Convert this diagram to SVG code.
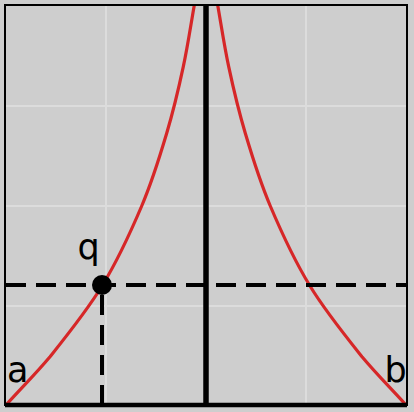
<svg xmlns="http://www.w3.org/2000/svg" width="414" height="412" viewBox="0 0 414 412">
<style>
.grid{stroke:#dcdcdc;stroke-width:2;fill:none}
.curve{stroke:#d62728;stroke-width:3.2;fill:none}
.dash{stroke:#000;stroke-width:4;stroke-dasharray:20 10;fill:none}
.lbl{font-family:"DejaVu Sans","Liberation Sans",sans-serif;font-size:35px;fill:#000}
</style>
<defs>
<clipPath id="plot"><rect x="5" y="5" width="402" height="400"/></clipPath>
</defs>
<rect x="0" y="0" width="414" height="412" fill="#cecece"/>
<g id="grid">
<path class="grid" d="M106,5V405M306,5V405M5,106H407M5,206H407M5,306H407"/>
</g>
<g id="connectors">
<g clip-path="url(#plot)">
<path id="curve-left" class="curve" d="M6,405 C20.7,388.6 34,375.7 50,356.7 C66,336.7 86.7,311.1 102,286 C117.3,260.9 130.9,231.5 141.7,206 C152.5,180.6 159.8,156.5 166.7,133.3 C173.6,110.1 178.7,88.3 183.3,66.7 C187.9,45.2 190.8,24.9 194.5,4 L196,-6"/>
<path id="curve-right" class="curve" transform="translate(412,0) scale(-1,1)" d="M6,405 C20.7,388.6 34,375.7 50,356.7 C66,336.7 86.7,311.1 102,286 C117.3,260.9 130.9,231.5 141.7,206 C152.5,180.6 159.8,156.5 166.7,133.3 C173.6,110.1 178.7,88.3 183.3,66.7 C187.9,45.2 190.8,24.9 194.5,4 L196,-6"/>
</g>
<path id="dash-h" class="dash" d="M6,285H407"/>
<path id="dash-v" class="dash" d="M102,405V285"/>
<path id="axis-v" d="M206,5V405" stroke="#000" stroke-width="5.5"/>
<path id="axis-h" d="M5,405H407" stroke="#000" stroke-width="4.5"/>
<rect id="frame" x="5" y="5" width="402" height="400" fill="none" stroke="#000" stroke-width="2"/>
</g>
<g id="node-q">
<circle cx="102" cy="285" r="10" fill="#000"/>
<text class="lbl" x="77.5" y="258.5">q</text>
</g>
<g id="node-a">
<text class="lbl" x="7" y="381.7">a</text>
</g>
<g id="node-b">
<text class="lbl" x="384.5" y="381.7">b</text>
</g>
</svg>
